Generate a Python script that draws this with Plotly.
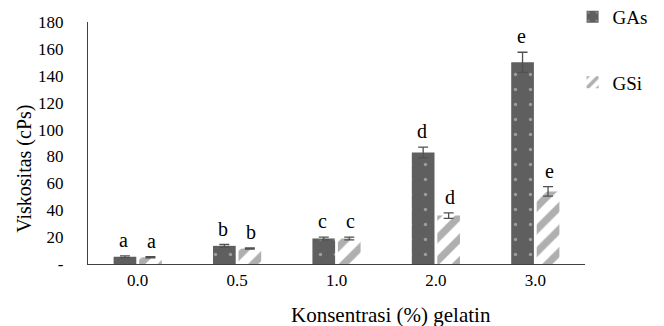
import plotly.graph_objects as go

categories = ["0.0", "0.5", "1.0", "2.0", "3.0"]
gas_values = [5.4, 13.5, 19, 83, 150]
gas_err = [0.6, 1, 1, 4, 7.5]
gsi_values = [5, 11.5, 19, 36, 54]
gsi_err = [0.5, 0.5, 1, 2, 3.5]
gas_letters = ["a", "b", "c", "d", "e"]
gsi_letters = ["a", "b", "c", "d", "e"]
y_ticks = [0, 20, 40, 60, 80, 100, 120, 140, 160, 180]
y_ticktext = ["-", "20", "40", "60", "80", "100", "120", "140", "160", "180"]

FONT = "Liberation Serif"
ERRC = "#505050"

fig = go.Figure()
fig.add_trace(go.Bar(
    name="GAs", x=categories, y=gas_values, legendgroup="g1",
    marker=dict(color="#5f5f5f", line=dict(width=0),
                pattern=dict(shape=".", fgcolor="#dcdcdc", bgcolor="#5f5f5f",
                             size=15, solidity=0.04)),
    error_y=dict(type="data", array=gas_err, color=ERRC, thickness=1.3, width=5),
))
fig.add_trace(go.Bar(
    name="GSi", x=categories, y=gsi_values, legendgroup="g2",
    marker=dict(color="white", line=dict(width=0),
                pattern=dict(shape="/", fgcolor="#5f5f5f", bgcolor="white",
                             size=16, solidity=0.45)),
    error_y=dict(type="data", array=gsi_err, color=ERRC, thickness=1.3, width=5),
))

for i, (v, e, t) in enumerate(zip(gas_values, gas_err, gas_letters)):
    fig.add_annotation(x=i, y=v + e, text=t, showarrow=False, xshift=-14,
                       yshift=3, yanchor="bottom", font=dict(family=FONT, size=20, color="black"))
for i, (v, e, t) in enumerate(zip(gsi_values, gsi_err, gsi_letters)):
    fig.add_annotation(x=i, y=v + e, text=t, showarrow=False, xshift=14,
                       yshift=3, yanchor="bottom", font=dict(family=FONT, size=20, color="black"))

fig.add_annotation(xref="paper", yref="paper", x=-0.127, y=0.393, text="Viskositas (cPs)",
                   xanchor="center", yanchor="middle",
                   textangle=-90, showarrow=False, font=dict(family=FONT, size=20, color="black"))
fig.add_annotation(xref="paper", yref="paper", x=0.61, y=-0.21, text="Konsentrasi (%) gelatin",
                   xanchor="center", yanchor="middle",
                   showarrow=False, font=dict(family=FONT, size=21, color="black"))

fig.update_layout(
    width=664, height=326,
    margin=dict(l=88, r=79, t=22, b=62, autoexpand=False),
    paper_bgcolor="white", plot_bgcolor="white",
    barmode="group", bargap=0.487, bargroupgap=0.11,
    font=dict(family=FONT, size=17, color="black"),
    legend=dict(x=0.975, y=1.1, xanchor="left", yanchor="top",
                tracegroupgap=38, font=dict(family=FONT, size=19, color="black"),
                itemwidth=30, bgcolor="rgba(0,0,0,0)"),
    xaxis=dict(type="category", showline=True, linecolor="#404040", linewidth=1.3, ticks="",
               showgrid=False, tickfont=dict(family=FONT, size=17, color="black"),
               ticklabelstandoff=0, automargin=False),
    yaxis=dict(range=[0, 180], tickvals=y_ticks, ticktext=y_ticktext,
               showline=True, linecolor="#404040", linewidth=1.3, ticks="",
               showgrid=False, zeroline=False, automargin=False,
               tickfont=dict(family=FONT, size=17, color="black"),
               ticklabelstandoff=20),
)

fig.write_html("out.html", config={"displayModeBar": False},
               post_script="document.body.style.margin='0';document.body.style.overflow='hidden';")
